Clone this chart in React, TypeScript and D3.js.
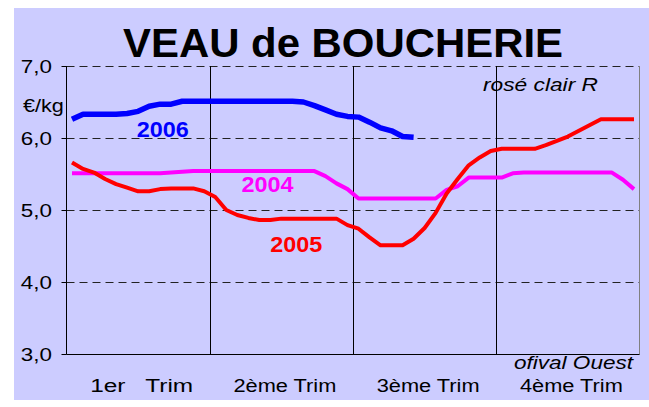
import React from "react";
import * as d3 from "d3";

const quarters = ["1er   Trim", "2ème Trim", "3ème Trim", "4ème Trim"];
const yTicks = [3, 4, 5, 6, 7];
const years = ["2004", "2005", "2006"];

const v2004 = [5.51, 5.51, 5.51, 5.51, 5.51, 5.51, 5.51, 5.51, 5.51, 5.52, 5.53, 5.54, 5.54,
  5.54, 5.54, 5.54, 5.54, 5.54, 5.54, 5.54, 5.54, 5.54, 5.54, 5.47, 5.37, 5.29,
  5.16, 5.16, 5.16, 5.16, 5.16, 5.16, 5.16, 5.16, 5.28, 5.33, 5.45, 5.45, 5.45,
  5.45, 5.51, 5.52, 5.52, 5.52, 5.52, 5.52, 5.52, 5.52, 5.52, 5.52, 5.42, 5.29];

const v2005 = [5.66, 5.57, 5.52, 5.43, 5.36, 5.31, 5.26, 5.26, 5.29, 5.30, 5.30, 5.30, 5.26,
  5.18, 5.00, 4.93, 4.89, 4.86, 4.86, 4.88, 4.88, 4.88, 4.88, 4.88, 4.88, 4.79,
  4.74, 4.62, 4.51, 4.51, 4.51, 4.60, 4.75, 4.96, 5.23, 5.43, 5.62, 5.73, 5.82,
  5.85, 5.85, 5.85, 5.85, 5.90, 5.96, 6.02, 6.10, 6.18, 6.26, 6.26, 6.26, 6.26];

const v2006 = [6.26, 6.33, 6.33, 6.33, 6.33, 6.34, 6.37, 6.44, 6.47, 6.47, 6.51, 6.51, 6.51,
  6.51, 6.51, 6.51, 6.51, 6.51, 6.51, 6.51, 6.51, 6.50, 6.45, 6.39, 6.33, 6.30,
  6.29, 6.22, 6.14, 6.10, 6.02, 6.01];

const W = 649;
const H = 407;
const left = 66.5;
const right = 639.5;
const top = 66;
const bottom = 354;

export default function App() {
  const x = d3.scaleLinear().domain([0.5, 52.5]).range([left, right]);
  const y = d3.scaleLinear().domain([3, 7]).range([bottom, top]);
  const line = d3
    .line<number>()
    .x((_, i) => x(i + 1))
    .y((d) => y(d))
    .curve(d3.curveLinear);

  const font = "'Liberation Sans', Arial, sans-serif";
  const series = [
    { name: years[0], values: v2004, color: "#FF00FF", width: 4 },
    { name: years[1], values: v2005, color: "#FF0000", width: 4 },
    { name: years[2], values: v2006, color: "#0000FF", width: 5.5 },
  ];
  const labelPos: Record<string, [number, number]> = {
    "2004": [18.74, 5.25],
    "2005": [21.35, 4.42],
    "2006": [9.23, 6.01],
  };
  const fmt = (v: number) => d3.format(".1f")(v).replace(".", ",");

  return (
    <svg
      width={W}
      height={H}
      style={{ position: "absolute", left: 0, top: 0, background: "#fff" }}
      fontFamily={font}
    >
      <rect x={14} y={8} width={635} height={392} fill="#CCCCFF" />
      <text
        x={343}
        y={57}
        textAnchor="middle"
        fontSize={40}
        fontWeight="bold"
        textLength={440}
        lengthAdjust="spacingAndGlyphs"
      >
        VEAU de BOUCHERIE
      </text>

      {/* horizontal dashed gridlines */}
      {yTicks.filter((t) => t > 3).map((t) => (
        <line
          key={"g" + t}
          x1={left}
          x2={right}
          y1={Math.round(y(t)) + 0.5}
          y2={Math.round(y(t)) + 0.5}
          stroke="#222"
          strokeWidth={1}
          strokeDasharray="8,5"
        />
      ))}
      {/* quarter separators */}
      {[13.5, 26.5, 39.5].map((w) => (
        <line
          key={"q" + w}
          x1={Math.round(x(w)) + 0.5}
          x2={Math.round(x(w)) + 0.5}
          y1={top}
          y2={bottom}
          stroke="#000"
          strokeWidth={1}
        />
      ))}
      <line x1={right} x2={right} y1={top} y2={bottom + 0.5} stroke="#808080" strokeWidth={1} />
      {/* axes */}
      <line x1={left} x2={left} y1={top} y2={bottom + 0.5} stroke="#000" strokeWidth={1} />
      <line x1={left} x2={right} y1={bottom + 0.5} y2={bottom + 0.5} stroke="#000" strokeWidth={1} />
      {yTicks.map((t) => (
        <g key={"t" + t}>
          <line
            x1={left - 5}
            x2={left}
            y1={Math.round(y(t)) + 0.5}
            y2={Math.round(y(t)) + 0.5}
            stroke="#000"
          />
          <text
            transform={`translate(52, ${y(t) + 7}) scale(1.18, 1)`}
            textAnchor="end"
            fontSize={19}
            fill="#000"
          >
            {fmt(t)}
          </text>
        </g>
      ))}
      <text transform="translate(23, 112) scale(1.2, 1)" fontSize={18} fill="#000">
        €/kg
      </text>

      {series.map((s) => (
        <path
          key={s.name}
          d={line(s.values) || ""}
          fill="none"
          stroke={s.color}
          strokeWidth={s.width}
          strokeLinejoin="round"
        />
      ))}

      {series.map((s) => (
        <text
          key={"l" + s.name}
          x={x(labelPos[s.name][0])}
          y={y(labelPos[s.name][1])}
          textAnchor="middle"
          fontSize={22}
          fontWeight="bold"
          fill={s.color}
          textLength={52}
          lengthAdjust="spacingAndGlyphs"
        >
          {s.name}
        </text>
      ))}

      <text
        x={598}
        y={91}
        textAnchor="end"
        fontSize={18}
        fontStyle="italic"
        textLength={115}
        lengthAdjust="spacingAndGlyphs"
      >
        rosé clair R
      </text>
      <text
        x={633}
        y={369}
        textAnchor="end"
        fontSize={18}
        fontStyle="italic"
        textLength={119}
        lengthAdjust="spacingAndGlyphs"
      >
        ofival Ouest
      </text>

      {quarters.map((q, i) => (
        <text
          key={q}
          x={x(i * 13 + 7) + 3.5}
          y={392}
          textAnchor="middle"
          fontSize={18}
          textLength={103}
          lengthAdjust="spacingAndGlyphs"
          style={{ whiteSpace: "pre" }}
        >
          {q}
        </text>
      ))}
    </svg>
  );
}
